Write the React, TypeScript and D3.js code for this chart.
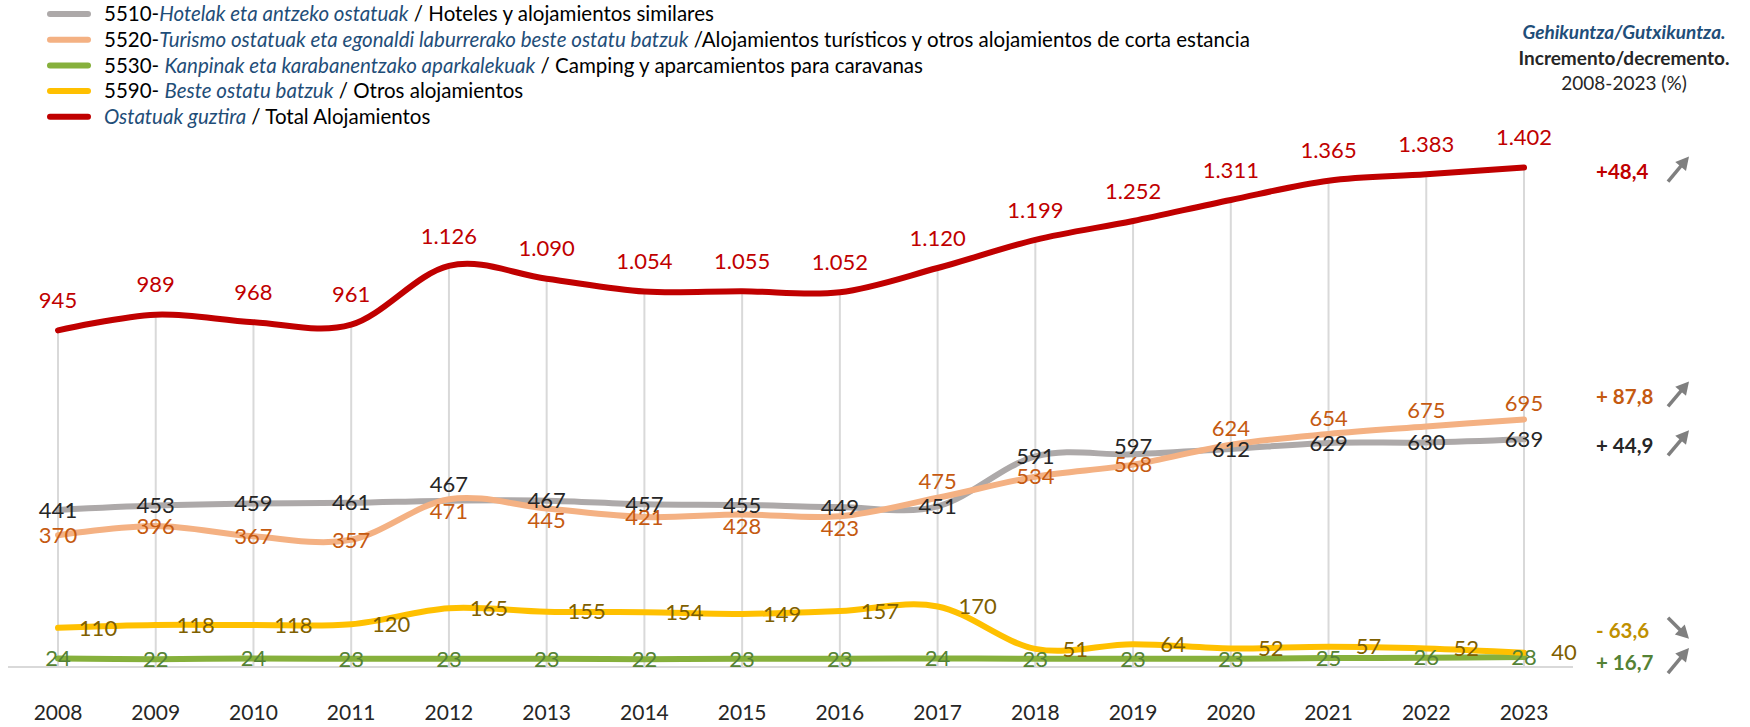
import * as d3 from "d3";

const years = ["2008", "2009", "2010", "2011", "2012", "2013", "2014", "2015", "2016", "2017", "2018", "2019", "2020", "2021", "2022", "2023"];

const hotels = [441, 453, 459, 461, 467, 467, 457, 455, 449, 451, 591, 597, 612, 629, 630, 639];
const tourism = [370, 396, 367, 357, 471, 445, 421, 428, 423, 475, 534, 568, 624, 654, 675, 695];
const camping = [24, 22, 24, 23, 23, 23, 22, 23, 23, 24, 23, 23, 23, 25, 26, 28];
const others = [110, 118, 118, 120, 165, 155, 154, 149, 157, 170, 51, 64, 52, 57, 52, 40];
const total = [945, 989, 968, 961, 1126, 1090, 1054, 1055, 1052, 1120, 1199, 1252, 1311, 1365, 1383, 1402];

// where each data label sits: c = centred, u = a bit up, a = above, b = below, r = right, t = well above
const hotelsPlace = ["c", "c", "c", "c", "a", "c", "c", "c", "c", "c", "c", "u", "c", "c", "c", "c"];
const tourismPlace = ["c", "c", "c", "c", "b", "b", "c", "b", "b", "a", "c", "c", "a", "a", "a", "a"];

const legendCodes = ["5510-", "5520-", "5530- ", "5590- ", ""];
const legendEu = [
  "Hotelak eta antzeko ostatuak",
  "Turismo ostatuak eta egonaldi laburrerako beste ostatu batzuk",
  "Kanpinak eta karabanentzako aparkalekuak",
  "Beste ostatu batzuk",
  "Ostatuak guztira",
];
const legendEs = [
  " / Hoteles y alojamientos similares",
  " /Alojamientos turísticos y otros alojamientos de corta estancia",
  " / Camping y aparcamientos para caravanas",
  " / Otros alojamientos",
  " / Total Alojamientos",
];

const font = "Lato, 'Open Sans', sans-serif";
const blue = "#1F4E79";

const series = [
  { key: "hotels", values: hotels, color: "#ADA9A9", text: "#262626", place: hotelsPlace, change: "#262626", gap: " " },
  { key: "tourism", values: tourism, color: "#F4B183", text: "#C55A11", place: tourismPlace, change: "#C55A11", gap: " " },
  { key: "camping", values: camping, color: "#86B03C", text: "#548235", place: years.map(() => "c"), change: "#548235", gap: " " },
  { key: "others", values: others, color: "#FFC000", text: "#7F6000", place: years.map(() => "r"), change: "#BF9000", gap: " " },
  { key: "total", values: total, color: "#C00000", text: "#C00000", place: years.map(() => "t"), change: "#C00000", gap: "" },
];

const legendOrder = ["hotels", "tourism", "camping", "others", "total"];
// offset of the % change label from the last point
const changeOffset: Record<string, number> = { total: 4, tourism: -23, hotels: 6, others: -22, camping: 6 };

const locale = d3.formatLocale({ decimal: ",", thousands: ".", grouping: [3], currency: ["", "€"] });
const fmt = locale.format(",d");
const fmtPct = locale.format(".1f");

const Arrow = ({ cx, cy, up }: { cx: number; cy: number; up: boolean }) => {
  const x0 = cx - 11;
  const x1 = cx + 10;
  const y0 = up ? cy + 13 : cy - 11;
  const y1 = up ? cy - 12 : cy + 10;
  const ang = Math.atan2(y1 - y0, x1 - x0);
  const head = 13;
  const hw = 7;
  const bx = x1 - Math.cos(ang) * head;
  const by = y1 - Math.sin(ang) * head;
  const px = -Math.sin(ang) * hw;
  const py = Math.cos(ang) * hw;
  return (
    <g fill="#7F7F7F" stroke="#7F7F7F">
      <line x1={x0} y1={y0} x2={bx + Math.cos(ang)} y2={by + Math.sin(ang)} strokeWidth={3.5} />
      <path d={`M${x1},${y1}L${bx + px},${by + py}L${bx - px},${by - py}Z`} stroke="none" />
    </g>
  );
};

export default function App() {
  const W = 1750;
  const H = 727;
  const x = d3.scalePoint<string>().domain(years).range([58, 1524]);
  const y = d3.scaleLinear().domain([0, 1600]).range([667, 97]);
  const line = d3
    .line<number>()
    .x((_, i) => x(years[i])!)
    .y((d) => y(d))
    .curve(d3.curveCatmullRom.alpha(0));

  const labelPos = (place: string, px: number, py: number) => {
    if (place === "t") return [px, py - 30];
    if (place === "a") return [px, py - 16];
    if (place === "u") return [px, py - 8];
    if (place === "b") return [px, py + 12];
    if (place === "r") return [px + 40, py];
    return [px, py];
  };

  return (
    <svg
      width={W}
      height={H}
      style={{ position: "absolute", left: 0, top: 0, background: "#fff" }}
      fontFamily={font}
    >
      {/* drop lines */}
      {years.map((yr, i) => (
        <line key={yr} x1={x(yr)} x2={x(yr)} y1={y(total[i])} y2={y(0)} stroke="#D9D9D9" strokeWidth={2} />
      ))}
      <line x1={8} x2={1573} y1={y(0)} y2={y(0)} stroke="#D9D9D9" strokeWidth={2} />

      {series.map((s) => (
        <path
          key={s.key}
          d={line(s.values)!}
          fill="none"
          stroke={s.color}
          strokeWidth={6}
          strokeLinecap="round"
          strokeLinejoin="round"
        />
      ))}

      {series.map((s) => (
        <g key={s.key} fill={s.text} fontSize={22} textAnchor="middle">
          {s.values.map((v, i) => {
            const [lx, ly] = labelPos(s.place[i], x(years[i])!, y(v));
            return (
              <text key={i} x={lx} y={ly} dy="0.35em">
                {fmt(v)}
              </text>
            );
          })}
        </g>
      ))}

      {/* year labels */}
      {years.map((yr) => (
        <text key={yr} x={x(yr)} y={713} dy="0.35em" textAnchor="middle" fontSize={21} fill="#262626">
          {yr}
        </text>
      ))}

      {/* legend */}
      {legendOrder.map((k, i) => {
        const s = series.find((d) => d.key === k)!;
        const ry = 14 + i * 25.7;
        return (
          <g key={k}>
            <line x1={50} x2={88} y1={ry} y2={ry} stroke={s.color} strokeWidth={6} strokeLinecap="round" />
            <text x={104} y={ry} dy="0.35em" fontSize={20.5} fill="#000" style={{ whiteSpace: "pre" }}>
              {legendCodes[i] && <tspan>{legendCodes[i]}</tspan>}
              <tspan fill={blue} fontStyle="italic">{legendEu[i]}</tspan>
              <tspan>{legendEs[i]}</tspan>
            </text>
          </g>
        );
      })}

      {/* header */}
      <g textAnchor="middle" fill="#262626" fontSize={19}>
        <text x={1624} y={32} dy="0.35em" fill={blue} fontWeight="bold" fontStyle="italic">
          Gehikuntza/Gutxikuntza.
        </text>
        <text x={1624} y={58} dy="0.35em" fontWeight="bold">
          Incremento/decremento.
        </text>
        <text x={1624} y={83} dy="0.35em">
          2008-2023 (%)
        </text>
      </g>

      {/* % change 2008-2023 */}
      {series.map((s) => {
        const first = s.values[0];
        const last = s.values[s.values.length - 1];
        const pct = ((last - first) / first) * 100;
        const cy = y(last) + changeOffset[s.key];
        const txt = `${pct >= 0 ? "+" : "-"}${s.gap}${fmtPct(Math.abs(pct))}`;
        return (
          <g key={s.key}>
            <text x={1596} y={cy} dy="0.35em" fontSize={20.5} fontWeight="bold" fill={s.change}>
              {txt}
            </text>
            <Arrow cx={1679} cy={pct >= 0 ? cy - 3 : cy - 2} up={pct >= 0} />
          </g>
        );
      })}
    </svg>
  );
}
